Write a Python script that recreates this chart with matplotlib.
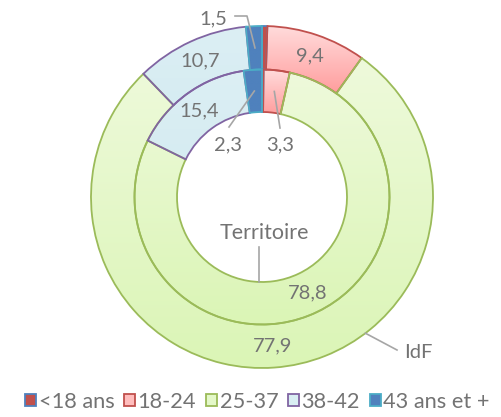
import numpy as np
import matplotlib.pyplot as plt
from matplotlib.patches import Patch
from matplotlib.colors import to_rgb

# données
categories = ['<18 ans', '18-24', '25-37', '38-42', '43 ans et +']
idf = [0.5, 9.4, 77.9, 10.7, 1.5]
territoire = [0.2, 3.3, 78.8, 15.4, 2.3]
idf_labels = ['', '9,4', '77,9', '10,7', '1,5']
terr_labels = ['', '3,3', '78,8', '15,4', '2,3']

# couleurs (dégradé haut -> bas)
fill_top = ['#C0504D', '#FFDCDC', '#EEFADB', '#DCEFF4', '#4F81BD']
fill_bot = ['#C0504D', '#FF9E9E', '#DBF5B6', '#D6ECF2', '#4F81BD']
edges = ['#4F81BD', '#C0504D', '#9BBB59', '#8064A2', '#4BACC6']
txt_col = '#737373'
line_col = '#A6A6A6'

plt.rcParams['font.family'] = ['Lato', 'DejaVu Sans']

W, H = 502, 417
fig = plt.figure(figsize=(W / 100, H / 100), dpi=100)
ax = fig.add_axes([0, 0, 1, 1])

cx, cy = 262, H - 197
R_out, R_mid, R_in = 171, 127.5, 85


def gradient_fill(wedges):
    for w, c1, c2 in zip(wedges, fill_top, fill_bot):
        ext = w.get_path().get_extents()
        t = np.linspace(0, 1, 64)[:, None]
        grad = (1 - t) * np.array(to_rgb(c1)) + t * np.array(to_rgb(c2))
        im = ax.imshow(grad[:, None, :], extent=(ext.x0, ext.x1, ext.y0, ext.y1),
                       origin='upper', aspect='auto', interpolation='bilinear',
                       zorder=1)
        im.set_clip_path(w)
        w.set_facecolor('none')
        w.set_zorder(2)


outer, _ = ax.pie(idf, radius=R_out, center=(cx, cy), startangle=90,
                  counterclock=False,
                  wedgeprops=dict(width=R_out - R_mid, linewidth=1.3))
inner, _ = ax.pie(territoire, radius=R_mid, center=(cx, cy), startangle=90,
                  counterclock=False,
                  wedgeprops=dict(width=R_mid - R_in, linewidth=1.3))
for w, e in zip(list(outer) + list(inner), edges * 2):
    w.set_edgecolor(e)
gradient_fill(outer)
gradient_fill(inner)


def mid_point(w, r):
    a = np.deg2rad((w.theta1 + w.theta2) / 2)
    return cx + r * np.cos(a), cy + r * np.sin(a)


fs = 14.5
# étiquettes centrées
for i in (1, 2, 3):
    x, y = mid_point(outer[i], (R_out + R_mid) / 2)
    ax.text(x, y, idf_labels[i], ha='center', va='center', fontsize=fs, color=txt_col)
for i in (2, 3):
    x, y = mid_point(inner[i], (R_mid + R_in) / 2)
    ax.text(x, y, terr_labels[i], ha='center', va='center', fontsize=fs, color=txt_col)

# 1,5 avec ligne de rappel coudée
tx, ty = mid_point(outer[4], (R_out + R_mid) / 2)
ax.text(213, H - 19, idf_labels[4], ha='center', va='center', fontsize=fs, color=txt_col)
ax.plot([235, 247, tx], [H - 16, H - 16, ty], color=line_col, lw=1.2, zorder=3)

# 2,3 et 3,3 dans le trou
tx, ty = mid_point(inner[4], (R_mid + R_in) / 2)
ax.text(228, H - 145, terr_labels[4], ha='center', va='center', fontsize=fs, color=txt_col)
ax.plot([229, tx], [H - 127, ty], color=line_col, lw=1.2, zorder=3)
tx, ty = mid_point(inner[1], (R_mid + R_in) / 2)
ax.text(280, H - 145, terr_labels[1], ha='center', va='center', fontsize=fs, color=txt_col)
ax.plot([280, tx], [H - 128, ty], color=line_col, lw=1.2, zorder=3)

# noms des séries
ax.text(264, H - 233, 'Territoire', ha='center', va='center', fontsize=fs + 1, color=txt_col)
ax.plot([259, 259], [H - 247, cy - np.sqrt(R_in ** 2 - 3 ** 2)], color=line_col, lw=1.2, zorder=3)
a = np.arctan2(-137, 104)
ax.text(418, H - 352, 'IdF', ha='center', va='center', fontsize=fs, color=txt_col)
ax.plot([397, cx + R_out * np.cos(a)], [H - 350, cy + R_out * np.sin(a)],
        color=line_col, lw=1.2, zorder=3)

# légende
handles = [Patch(facecolor=(np.array(to_rgb(a1)) + np.array(to_rgb(b1))) / 2,
                 edgecolor=e, linewidth=1.3, label=c)
           for c, a1, b1, e in zip(categories, fill_top, fill_bot, edges)]
fig.legend(handles=handles, loc='center', bbox_to_anchor=(257.5 / W, 15 / H),
           ncol=5, frameon=False, fontsize=15.7, labelcolor=txt_col,
           handlelength=0.5, handleheight=0.5, handletextpad=0.12,
           columnspacing=0.45, borderaxespad=0.0, borderpad=0.0)

ax.set_xlim(0, W)
ax.set_ylim(0, H)
ax.set_aspect('auto')
ax.axis('off')
fig.savefig('out.png', dpi=100)
